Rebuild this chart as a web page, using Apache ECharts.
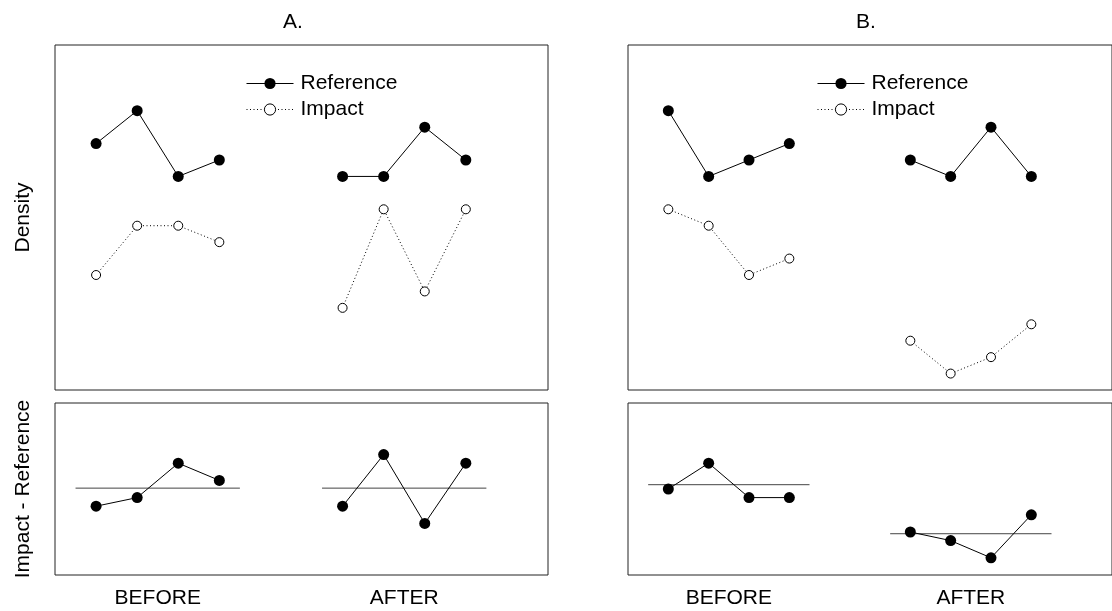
<!DOCTYPE html>
<html>
<head>
<meta charset="utf-8">
<script src="https://cdn.jsdelivr.net/npm/echarts@6/dist/echarts.min.js"></script>
<style>
html,body{margin:0;padding:0;background:#fff;}
#chart{width:1112px;height:611px;}
</style>
</head>
<body>
<div id="chart"></div>
<script>
// ---- data ----
const xBefore = [1, 2, 3, 4];
const xAfter = [7, 8, 9, 10];
const xTickLabels = ['BEFORE', 'AFTER'];
const panelTitles = ['A.', 'B.'];
const seriesNames = ['Reference', 'Impact'];

// Panel A (Density)
const refA_before = [15, 17, 13, 14];
const refA_after = [13, 13, 16, 14];
const impA_before = [7, 10, 10, 9];
const impA_after = [5, 11, 6, 11];
// Panel B (Density)
const refB_before = [17, 13, 14, 15];
const refB_after = [14, 13, 16, 13];
const impB_before = [11, 10, 7, 8];
const impB_after = [3, 1, 2, 4];

// Impact - Reference
const diffA_before = [-8, -7, -3, -5];
const diffA_after = [-8, -2, -10, -3];
const diffB_before = [-6, -3, -7, -7];
const diffB_after = [-11, -12, -14, -9];

// horizontal reference lines in lower panels: [before level, after level]
const levelA = [-5.9, -5.9];
const levelB = [-5.5, -11.2];
const spanBefore = [0.5, 4.5];
const spanAfter = [6.5, 10.5];

// ---- build ----
const FONT = 'Liberation Sans, Arial, Helvetica, sans-serif';
const pairs = (xs, ys) => xs.map((x, i) => [x, ys[i]]);
const tickPos = [
  xBefore.reduce((a, b) => a + b, 0) / xBefore.length,
  xAfter.reduce((a, b) => a + b, 0) / xAfter.length
];

function refSeries(gi, xs, ys) {
  return {
    name: 'Reference', type: 'line', xAxisIndex: gi, yAxisIndex: gi,
    data: pairs(xs, ys), symbol: 'circle', symbolSize: 11,
    itemStyle: { color: '#000' },
    lineStyle: { color: '#000', width: 1, type: 'solid' },
    animation: false, silent: true
  };
}
function impSeries(gi, xs, ys) {
  return {
    name: 'Impact', type: 'line', xAxisIndex: gi, yAxisIndex: gi,
    data: pairs(xs, ys), symbol: 'circle', symbolSize: 9,
    itemStyle: { color: '#fff', borderColor: '#000', borderWidth: 1 },
    lineStyle: { color: '#000', width: 1, type: [1, 2.5] },
    animation: false, silent: true
  };
}
function diffSeries(gi, xs, ys) {
  return {
    name: 'diff', type: 'line', xAxisIndex: gi, yAxisIndex: gi,
    data: pairs(xs, ys), symbol: 'circle', symbolSize: 11,
    itemStyle: { color: '#000' },
    lineStyle: { color: '#000', width: 1 },
    animation: false, silent: true
  };
}
function levelSeries(gi, span, lvl) {
  return {
    name: 'level', type: 'line', xAxisIndex: gi, yAxisIndex: gi,
    data: [[span[0], lvl], [span[1], lvl]], symbol: 'none',
    lineStyle: { color: '#444', width: 1 }, z: 1,
    animation: false, silent: true
  };
}

const grids = [
  { left: 55, top: 45, width: 493, height: 345 },
  { left: 55, top: 403, width: 493, height: 172 },
  { left: 628, top: 45, width: 493, height: 345 },
  { left: 628, top: 403, width: 493, height: 172 }
].map(g => Object.assign(g, { show: true, borderColor: '#222', borderWidth: 1, backgroundColor: 'transparent', containLabel: false }));

function xAxisFor(gi, labelled) {
  return {
    type: 'value', gridIndex: gi, min: 0, max: 12,
    axisLine: { show: false }, axisTick: { show: false }, splitLine: { show: false },
    axisLabel: labelled ? {
      show: true, customValues: tickPos, margin: 13,
      color: '#000', fontSize: 21, fontFamily: FONT,
      formatter: v => {
        const i = tickPos.findIndex(p => Math.abs(p - v) < 1e-6);
        return i >= 0 ? xTickLabels[i] : '';
      }
    } : { show: false }
  };
}
function yAxisFor(gi, min, max, name) {
  return {
    type: 'value', gridIndex: gi, min: min, max: max,
    axisLine: { show: false }, axisTick: { show: false }, splitLine: { show: false },
    axisLabel: { show: false },
    name: name || '', nameLocation: 'middle', nameGap: 21,
    nameTextStyle: { color: '#000', fontSize: 21, fontFamily: FONT }
  };
}

function legendAt(left) {
  return {
    left: left, top: 68, orient: 'vertical', itemWidth: 47, itemHeight: 14, itemGap: 5,
    data: seriesNames, selectedMode: false,
    lineStyle: { width: 1 },
    itemStyle: { borderWidth: 1 },
    textStyle: { color: '#000', fontSize: 21, fontFamily: FONT, padding: [0, 0, 0, 2] }
  };
}

const option = {
  backgroundColor: '#fff',
  animation: false,
  grid: grids,
  xAxis: [xAxisFor(0, false), xAxisFor(1, true), xAxisFor(2, false), xAxisFor(3, true)],
  yAxis: [
    yAxisFor(0, 0, 21, 'Density'),
    yAxisFor(1, -16, 4, 'Impact - Reference'),
    yAxisFor(2, 0, 21, ''),
    yAxisFor(3, -16, 4, '')
  ],
  legend: [legendAt(241), legendAt(812)],
  graphic: [
    { type: 'text', x: 293, y: 22, style: { text: panelTitles[0], fill: '#000', font: '21px ' + FONT, textAlign: 'center', textVerticalAlign: 'middle' } },
    { type: 'text', x: 866, y: 22, style: { text: panelTitles[1], fill: '#000', font: '21px ' + FONT, textAlign: 'center', textVerticalAlign: 'middle' } }
  ],
  series: [
    refSeries(0, xBefore, refA_before), refSeries(0, xAfter, refA_after),
    impSeries(0, xBefore, impA_before), impSeries(0, xAfter, impA_after),
    levelSeries(1, spanBefore, levelA[0]), levelSeries(1, spanAfter, levelA[1]),
    diffSeries(1, xBefore, diffA_before), diffSeries(1, xAfter, diffA_after),
    refSeries(2, xBefore, refB_before), refSeries(2, xAfter, refB_after),
    impSeries(2, xBefore, impB_before), impSeries(2, xAfter, impB_after),
    levelSeries(3, spanBefore, levelB[0]), levelSeries(3, spanAfter, levelB[1]),
    diffSeries(3, xBefore, diffB_before), diffSeries(3, xAfter, diffB_after)
  ]
};

const chart = echarts.init(document.getElementById('chart'), null, { renderer: 'canvas' });
chart.setOption(option);
</script>
</body>
</html>
